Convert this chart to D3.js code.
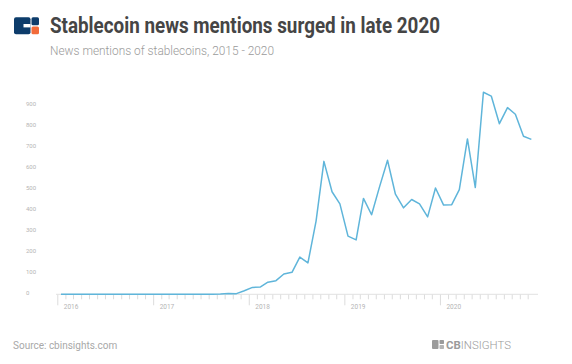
<!DOCTYPE html>
<html><head><meta charset="utf-8">
<script src="https://cdn.jsdelivr.net/npm/d3@7"></script>
<style>
html,body{margin:0;padding:0;background:#fff;}
svg{display:block;font-family:Roboto,"Noto Sans",sans-serif;}
</style></head>
<body><svg id="c" width="572" height="364"></svg>
<script>
const title = "Stablecoin news mentions surged in late 2020";
const subtitle = "News mentions of stablecoins, 2015 - 2020";
const source = "Source: cbinsights.com";
const months = ["2016-01","2016-02","2016-03","2016-04","2016-05","2016-06","2016-07","2016-08","2016-09","2016-10","2016-11","2016-12",
"2017-01","2017-02","2017-03","2017-04","2017-05","2017-06","2017-07","2017-08","2017-09","2017-10","2017-11","2017-12",
"2018-01","2018-02","2018-03","2018-04","2018-05","2018-06","2018-07","2018-08","2018-09","2018-10","2018-11","2018-12",
"2019-01","2019-02","2019-03","2019-04","2019-05","2019-06","2019-07","2019-08","2019-09","2019-10","2019-11","2019-12",
"2020-01","2020-02","2020-03","2020-04","2020-05","2020-06","2020-07","2020-08","2020-09","2020-10","2020-11","2020-12"];
const mentions = [0,0,0,0,0,0,0,0,0,0,0,0,
0,0,0,0,0,0,0,0,1,4,3,17,
33,35,58,65,97,105,178,150,350,635,490,432,
278,260,458,380,512,640,478,413,453,432,370,508,
426,428,500,742,510,965,947,815,892,860,755,740];
const yTicks = [0,100,200,300,400,500,600,700,800,900];
const yearLabels = ["2016","2017","2018","2019","2020"];

const svg = d3.select("#c");
const parse = d3.timeParse("%Y-%m");
const dates = months.map(parse);
const mid = d => d3.timeDay.offset(d, 14);

const x = d3.scaleTime().domain([new Date(2016,0,1), new Date(2021,0,1)]).range([57.3, 535.8]);
const y = d3.scaleLinear().domain([0,900]).range([294.3, 105.9]);

// header
const logo = svg.append("g");
logo.append("rect").attr("x",14).attr("y",17.3).attr("width",16.5).attr("height",17).attr("rx",2).attr("fill","#0d3c6b");
logo.append("rect").attr("x",23.5).attr("y",24).attr("width",7).attr("height",3.4).attr("fill","#fff");
logo.append("rect").attr("x",31.5).attr("y",17.3).attr("width",7.5).attr("height",8).attr("rx",1.5).attr("fill","#0d3c6b");
logo.append("rect").attr("x",31.5).attr("y",26.5).attr("width",7.5).attr("height",7.8).attr("rx",1.5).attr("fill","#f26b3a");

svg.append("text").attr("x",50).attr("y",33.3).attr("font-size",22).attr("font-weight",700)
  .attr("fill","#454545").attr("textLength",390).attr("lengthAdjust","spacingAndGlyphs").text(title);
svg.append("text").attr("x",50).attr("y",55).attr("font-size",13.5).attr("font-weight",300)
  .attr("fill","#9a9a9a").attr("textLength",224).attr("lengthAdjust","spacingAndGlyphs").text(subtitle);

// y axis labels
const ya = svg.append("g").attr("transform","translate(26,0)")
  .call(d3.axisRight(y).tickValues(yTicks).tickSize(0).tickPadding(0));
ya.select(".domain").remove();
ya.selectAll("text").attr("dy","0").attr("x",0).attr("text-anchor","start")
  .attr("font-size",6).attr("font-family","Roboto, sans-serif").attr("fill","#b5b5b5");

// x axis
const xa = svg.append("g").attr("transform",`translate(0,${y(0)})`)
  .call(d3.axisBottom(x).tickValues(dates).tickSize(5).tickFormat(d => d.getMonth()===0 ? d3.timeFormat("%Y")(d) : ""));
xa.select(".domain").remove();
xa.append("line").attr("x1",x.range()[0]-1.3).attr("x2",x.range()[1]+2.2).attr("stroke","#e2e2e2").attr("stroke-width",1);
xa.selectAll(".tick line").attr("stroke","#dcdcdc").attr("y2", d => d.getMonth()===0 ? 11 : 5);
xa.selectAll(".tick text").attr("dy","0").attr("y",15).attr("x",6).attr("text-anchor","start")
  .attr("font-size",6.5).attr("font-family","Roboto, sans-serif").attr("fill","#b5b5b5");

// line
const line = d3.line().x((d,i) => x(mid(dates[i]))).y(d => y(d));
svg.append("path").datum(mentions).attr("d",line).attr("fill","none")
  .attr("stroke","#5fb5da").attr("stroke-width",1.5).attr("stroke-linejoin","round");

// footer
svg.append("text").attr("x",13).attr("y",348.5).attr("font-size",10).attr("fill","#a8a8a8").text(source);
const fl = svg.append("g");
fl.append("rect").attr("x",432).attr("y",340).attr("width",6.5).attr("height",9).attr("rx",1).attr("fill","#9b9b9b");
fl.append("rect").attr("x",439.5).attr("y",340).attr("width",4.5).attr("height",4).attr("rx",0.8).attr("fill","#9b9b9b");
fl.append("rect").attr("x",439.5).attr("y",345).attr("width",4.5).attr("height",4).attr("rx",0.8).attr("fill","#b5b5b5");
const ft = fl.append("text").attr("x",446).attr("y",349).attr("font-size",11.5).attr("fill","#9b9b9b")
  .attr("textLength",65).attr("lengthAdjust","spacingAndGlyphs");
ft.append("tspan").attr("font-weight",700).text("CB");
ft.append("tspan").attr("font-weight",300).text("INSIGHTS");
</script></body></html>
